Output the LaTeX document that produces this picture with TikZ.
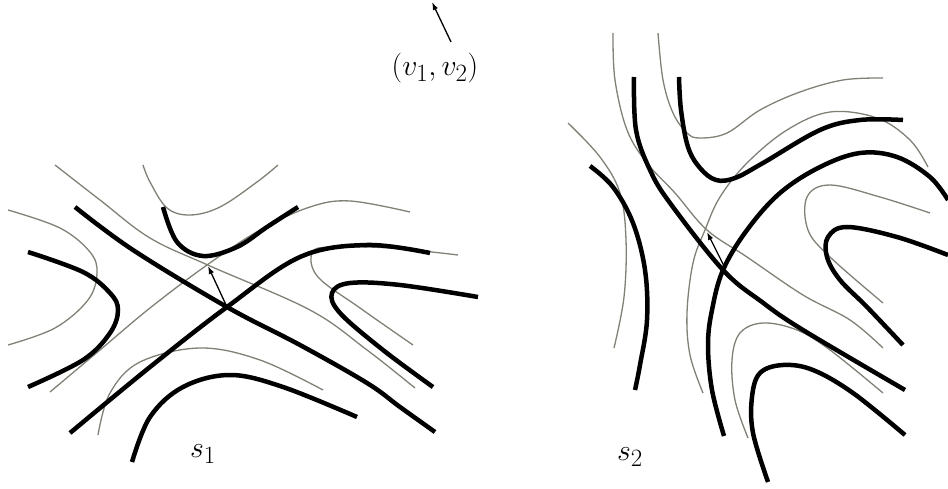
\documentclass[tikz,border=0pt]{standalone}
\usepackage{graphicx}
\usetikzlibrary{arrows.meta}

\definecolor{shiftgray}{RGB}{128,128,118}
\newcommand{\biglbl}[1]{\scalebox{1.2}{#1}}

\begin{document}
\begin{tikzpicture}[
    x=1pt, y=-1pt,
    level/.style={line width=4.5pt, black},
    shifted/.style={line width=1.3pt, draw=shiftgray},
    arrow/.style={-{Latex[length=8pt, width=5.5pt]}, line width=1.3pt},
    lbl/.style={font=\fontsize{24.88}{30}\selectfont, inner sep=0pt},
]
\useasboundingbox (0,0) rectangle (948,489);

%% LEFT PANEL
    % shifted level curves
    \draw[shifted] plot[smooth, tension=0.6] coordinates {(143,165) (150,182) (167,208) (190,215) (220,207) (257,182) (278,165)};
    \draw[shifted] plot[smooth, tension=0.6] coordinates {(55,165) (100,200) (150,238) (210,266) (310,310) (367,350) (415,388)};
    \draw[shifted] plot[smooth, tension=0.6] coordinates {(50,392) (100,350) (150,308) (207,265) (260,230) (310,207) (350,201) (410,212)};
    \draw[shifted] plot[smooth, tension=0.6] coordinates {(8,210) (60,228) (90,252) (97,273) (88,300) (55,328) (8,345)};
    \draw[shifted] plot[smooth, tension=0.6] coordinates {(458,255) (390,248) (330,247) (312,253) (318,277) (360,308) (413,345)};
    \draw[shifted] plot[smooth, tension=0.6] coordinates {(98,435) (110,393) (140,362) (200,348) (260,360) (323,390)};

    % level curves
    \draw[level] plot[smooth, tension=0.6] coordinates {(28,252) (83,272) (110,293) (118,310) (110,333) (83,360) (28,387)};
    \draw[level] plot[smooth, tension=0.6] coordinates {(75,207) (133,250) (227,307) (300,345) (367,383) (400,407) (435,432)};
    \draw[level] plot[smooth, tension=0.6] coordinates {(70,433) (150,367) (227,307) (300,257) (367,245) (430,253)};
    \draw[level] plot[smooth, tension=0.6] coordinates {(163,207) (177,242) (203,256) (237,247) (267,227) (298,207)};
    \draw[level] plot[smooth, tension=0.6] coordinates {(478,297) (400,285) (350,283) (332,293) (340,313) (383,350) (433,387)};
    \draw[level] plot[smooth, tension=0.6] coordinates {(132,462) (150,417) (183,387) (230,375) (283,387) (357,417)};

    \coordinate (saddle1) at (227,307);
    \coordinate (shift1) at (208,266);
    \draw[arrow] (saddle1) -- (shift1);
    \node[lbl] (s1) at (203,454) {\biglbl{$s_1$}};

%% RIGHT PANEL
    % shifted level curves
    \draw[shifted] plot[smooth, tension=0.6] coordinates {(568,123) (600,157) (620,193) (626,240) (624,297) (614,348)};
    \draw[shifted] plot[smooth, tension=0.6] coordinates {(613,33) (615,80) (627,130) (647,163) (675,193) (707,230) (747,257) (803,295) (850,320) (883,348)};
    \draw[shifted] plot[smooth, tension=0.6] coordinates {(658,33) (663,80) (673,113) (687,133) (700,138) (727,133) (760,110) (800,92) (843,80) (883,78)};
    \draw[shifted] plot[smooth, tension=0.6] coordinates {(703,393) (690,355) (687,313) (693,263) (705,230) (720,197) (747,163) (787,130) (830,112) (877,118) (910,140) (928,167)};
    \draw[shifted] plot[smooth, tension=0.6] coordinates {(930,213) (880,197) (830,185) (807,197) (808,230) (830,257) (883,303)};
    \draw[shifted] plot[smooth, tension=0.6] coordinates {(883,393) (830,350) (797,330) (763,323) (740,333) (732,360) (735,400) (748,438)};

    % level curves
    \draw[level] plot[smooth, tension=0.6] coordinates {(590,166) (613,187) (633,223) (645,270) (647,320) (640,365) (635,390)};
    \draw[level] plot[smooth, tension=0.6] coordinates {(634,77) (636,130) (650,170) (670,203) (723,270) (762,302) (803,330) (905,390)};
    \draw[level] plot[smooth, tension=0.6] coordinates {(679,77) (681,110) (688,147) (700,168) (716,180) (735,178) (763,163) (820,130) (860,120) (903,120)};
    \draw[level] plot[smooth, tension=0.6] coordinates {(724,436) (712,390) (708,345) (712,310) (723,270) (747,230) (780,193) (820,167) (860,153) (897,157) (930,177) (948,200)};
    \draw[level] plot[smooth, tension=0.6] coordinates {(948,255) (897,237) (847,227) (828,237) (827,257) (840,280) (867,307) (903,345)};
    \draw[level] plot[smooth, tension=0.6] coordinates {(768,482) (753,433) (752,397) (760,373) (783,365) (813,370) (853,393) (905,435)};

    \coordinate (saddle2) at (725,268);
    \coordinate (shift2) at (707,232);
    \draw[arrow] (saddle2) -- (shift2);
    \node[lbl] (s2) at (630,457) {\biglbl{$s_2$}};

%% SHIFT LABEL
    \node[lbl] (shift_label) at (435,68) {\biglbl{$(v_1,v_2)$}};
    \coordinate (shift_tail) at (451,42);
    \coordinate (shift_tip) at (432,2);
    \draw[arrow] (shift_tail) -- (shift_tip);

\end{tikzpicture}
\end{document}
